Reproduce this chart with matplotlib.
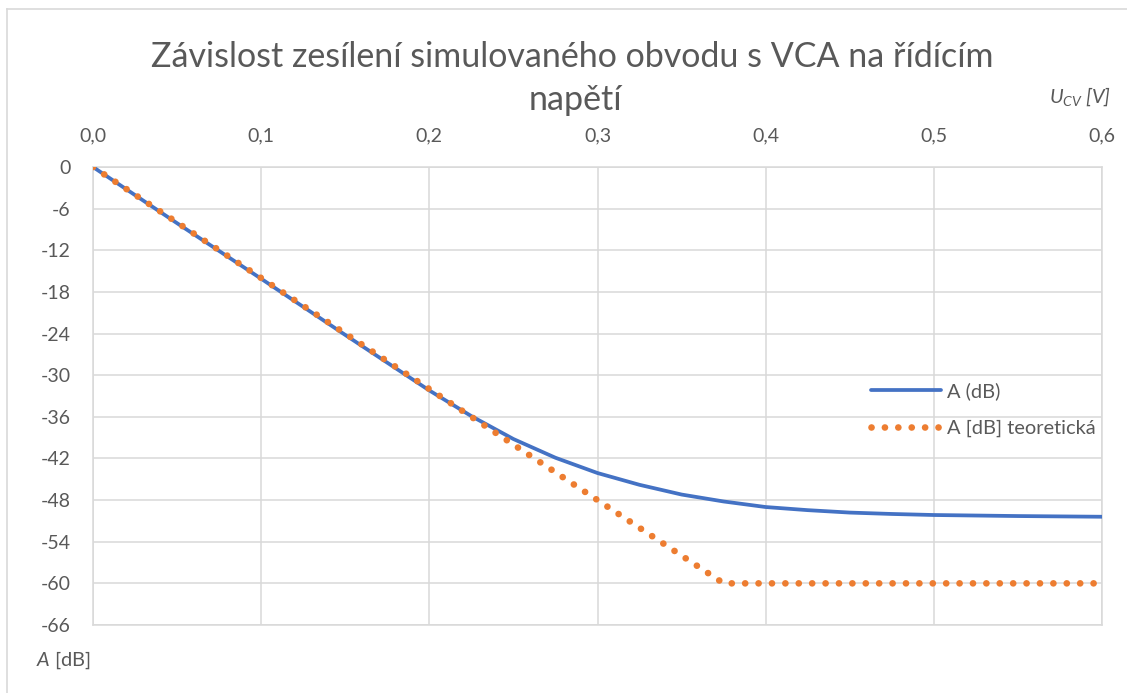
import matplotlib
matplotlib.use("Agg")
import matplotlib.pyplot as plt
from matplotlib.lines import Line2D

# data (U_CV in V, gain in dB)
u_sim = [0.0, 0.05, 0.1, 0.15, 0.2, 0.225, 0.25, 0.275, 0.3, 0.325, 0.35,
         0.375, 0.4, 0.425, 0.45, 0.475, 0.5, 0.55, 0.6]
a_sim = [0.0, -8.1, -16.1, -24.2, -32.2, -35.9, -39.2, -41.9, -44.1, -45.8,
         -47.2, -48.2, -49.0, -49.45, -49.8, -50.0, -50.15, -50.3, -50.4]

u_theo = [0.0, 0.1, 0.2, 0.3, 0.375, 0.4, 0.5, 0.6]
a_theo = [0.0, -16.0, -32.0, -48.0, -60.0, -60.0, -60.0, -60.0]

x_ticks = [0.0, 0.1, 0.2, 0.3, 0.4, 0.5, 0.6]
y_ticks = [0, -6, -12, -18, -24, -30, -36, -42, -48, -54, -60, -66]

txt = "#595959"
grid = "#D9D9D9"

plt.rcParams["font.family"] = ["Lato", "DejaVu Sans"]
plt.rcParams["mathtext.fontset"] = "custom"
plt.rcParams["mathtext.rm"] = "Lato"
plt.rcParams["mathtext.it"] = "Lato:italic"

W, H = 1127, 693
fig = plt.figure(figsize=(W / 100, H / 100), dpi=100)
ax = fig.add_axes([93 / W, 1 - 625 / H, (1102 - 93) / W, (625 - 167) / H])

ax.plot(u_sim, a_sim, color="#4472C4", lw=2.7, label="A (dB)",
        solid_capstyle="round", solid_joinstyle="round", zorder=3)
ax.plot(u_theo, a_theo, color="#ED7D31", lw=4.8, linestyle=(0, (0.01, 2.0)),
        dash_capstyle="round", label="A [dB] teoretická", zorder=4)

ax.set_xlim(0, 0.6)
ax.set_ylim(-66, 0)
ax.xaxis.tick_top()
ax.set_xticks(x_ticks)
ax.set_xticklabels([f"{v:.1f}".replace(".", ",") for v in x_ticks])
ax.set_yticks(y_ticks)
ax.set_yticklabels([str(v) for v in y_ticks])
ax.tick_params(axis="x", length=0, pad=16, labelsize=14, labelcolor=txt)
ax.tick_params(axis="y", length=0, pad=16, labelsize=14, labelcolor=txt)
ax.grid(True, color=grid, lw=1.1)
ax.set_axisbelow(True)
for s in ax.spines.values():
    s.set_color(grid)
    s.set_linewidth(1.1)

leg = ax.legend(loc="upper left", bbox_to_anchor=(871 / W, 1 - 382 / H),
                bbox_transform=fig.transFigure, frameon=False, fontsize=14.4,
                handlelength=3.5, handletextpad=0.3, labelspacing=1.0,
                borderpad=0, borderaxespad=0)
for t in leg.get_texts():
    t.set_color(txt)

fig.text(572 / W, 1 - 57 / H, "Závislost zesílení simulovaného obvodu s VCA na řídícím",
         ha="center", va="center", fontsize=24.5, color=txt)
fig.text(575 / W, 1 - 100 / H, "napětí",
         ha="center", va="center", fontsize=24.5, color=txt)
fig.text(1111 / W, 1 - 97 / H, r"$U_{CV}$ [V]", ha="right", va="center",
         fontsize=14.4, color=txt, style="italic")
fig.text(36 / W, 1 - 660 / H, r"$A$ [dB]", ha="left", va="center",
         fontsize=14.4, color=txt)

# outer chart border
fig.add_artist(Line2D([7 / W, 7 / W], [0, 1 - 9 / H], transform=fig.transFigure,
                      color=grid, lw=1.2))
fig.add_artist(Line2D([7 / W, 1], [1 - 9 / H, 1 - 9 / H], transform=fig.transFigure,
                      color=grid, lw=1.2))

fig.savefig("out.png", dpi=100)
